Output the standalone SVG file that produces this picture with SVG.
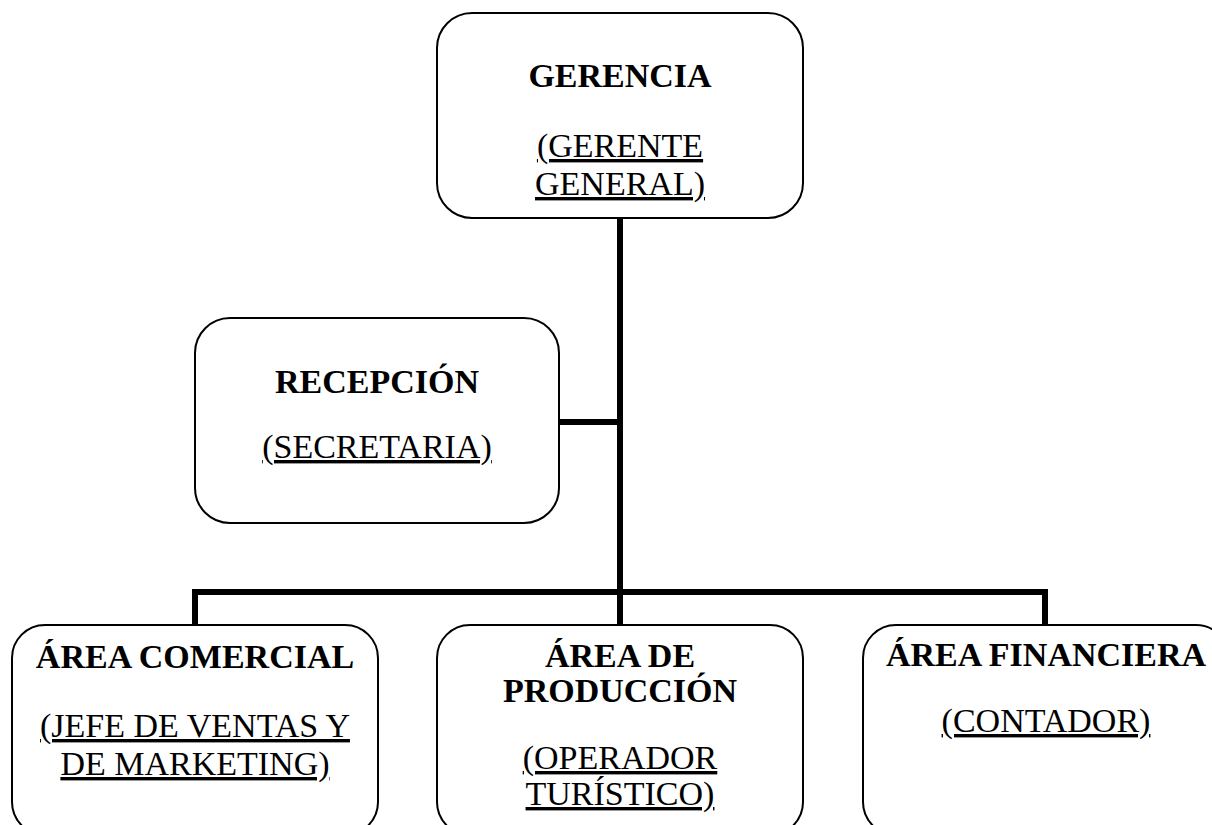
<svg xmlns="http://www.w3.org/2000/svg" width="1212" height="825" viewBox="0 0 1212 825">
<style>
.box{fill:#fff;stroke:#000;stroke-width:2}
.t{font-family:"Liberation Serif","Times New Roman",serif;font-size:34px;fill:#000;text-anchor:middle}
.b{font-weight:bold}
.u{text-decoration:underline}
.conn{fill:none;stroke:#000;stroke-width:6;stroke-linejoin:miter;stroke-linecap:butt}
</style>
<rect width="1212" height="825" fill="#fff"/>
<g id="connectors">
<line class="conn" x1="620" y1="218" x2="620" y2="625"/>
<line class="conn" x1="559" y1="422" x2="620" y2="422"/>
<polyline class="conn" points="195,625 195,592 1045,592 1045,625"/>
</g>
<g id="gerencia">
<rect class="box" x="437" y="13" width="366" height="205" rx="35" ry="35"/>
<text class="t b" x="620" y="87">GERENCIA</text>
<text class="t u" x="620" y="157">(GERENTE</text>
<text class="t u" x="620" y="195">GENERAL)</text>
</g>
<g id="recepcion">
<rect class="box" x="195" y="318" width="364" height="205" rx="35" ry="35"/>
<text class="t b" x="377" y="393">RECEPCIÓN</text>
<text class="t u" x="377" y="458">(SECRETARIA)</text>
</g>
<g id="area-comercial">
<rect class="box" x="12" y="625" width="366" height="210" rx="33" ry="33"/>
<text class="t b" x="195" y="668">ÁREA COMERCIAL</text>
<text class="t u" x="195" y="737">(JEFE DE VENTAS Y</text>
<text class="t u" x="195" y="775">DE MARKETING)</text>
</g>
<g id="area-produccion">
<rect class="box" x="437" y="625" width="366" height="210" rx="33" ry="33"/>
<text class="t b" x="620" y="667">ÁREA DE</text>
<text class="t b" x="620" y="702">PRODUCCIÓN</text>
<text class="t u" x="620" y="769">(OPERADOR</text>
<text class="t u" x="620" y="805">TURÍSTICO)</text>
</g>
<g id="area-financiera">
<rect class="box" x="863" y="625" width="366" height="210" rx="33" ry="33"/>
<text class="t b" x="1046" y="666">ÁREA FINANCIERA</text>
<text class="t u" x="1046" y="732">(CONTADOR)</text>
</g>
</svg>
